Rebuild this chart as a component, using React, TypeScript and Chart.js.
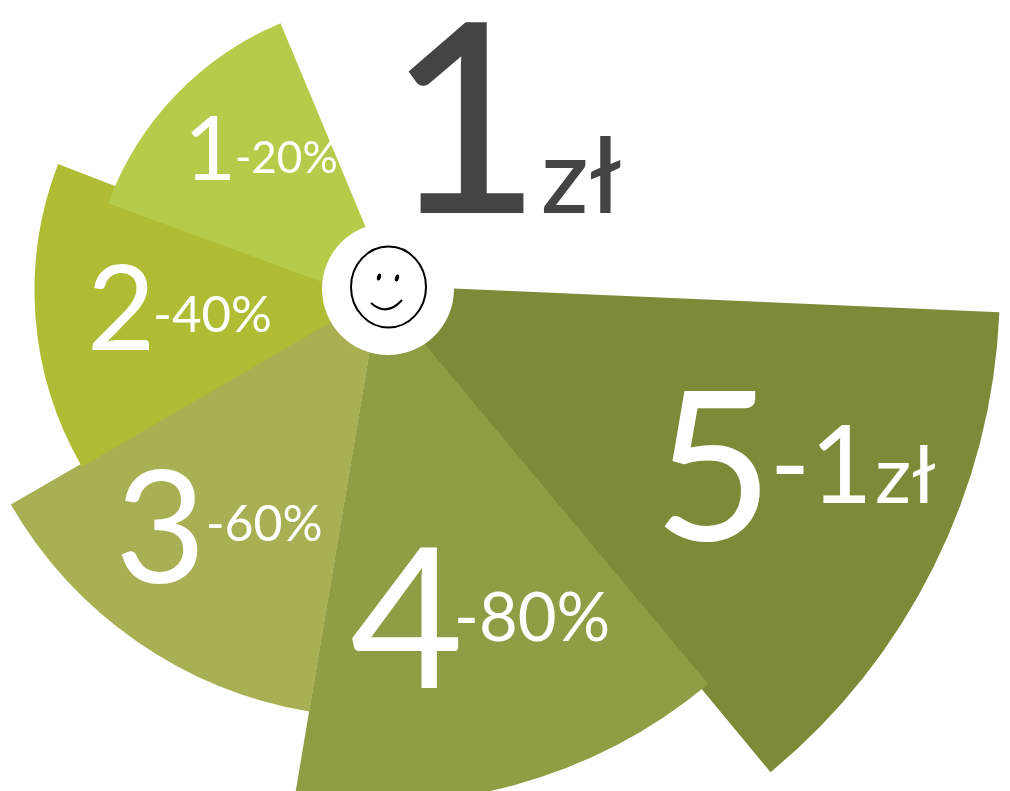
import React, { useEffect, useRef } from "react";
import { Chart, registerables } from "chart.js";

Chart.register(...registerables);

const categories = ["5", "4", "3", "2", "1"];
const radii = [647, 514, 425.5, 356, 340];
const sweeps = [47.5, 49.3, 50.5, 51, 45.5];
const nudges = [-57, -4, 2, -21, -114];
const colors = ["#7D8B39", "#8F9D44", "#A8B053", "#B0BC33", "#B5CC4B"];
const discounts = ["-1", "-80%", "-60%", "-40%", "-20%"];
const headline = "1";
const unit = "zł";

const FONT = "Lato, 'Open Sans', sans-serif";

function text(ctx: CanvasRenderingContext2D, s: string, x: number, y: number, size: number, color: string, weight = 400) {
  ctx.font = `${weight} ${size}px ${FONT}`;
  ctx.fillStyle = color;
  ctx.textAlign = "left";
  ctx.textBaseline = "alphabetic";
  ctx.fillText(s, x, y);
}

const decorations = {
  id: "decorations",
  afterDatasetsDraw(chart: Chart) {
    const ctx = chart.ctx;
    const cx = 388;
    const cy = 289;
    ctx.save();
    ctx.fillStyle = "#fff";
    ctx.beginPath();
    ctx.arc(cx, cy, 66, 0, Math.PI * 2);
    ctx.fill();

    ctx.strokeStyle = "#000";
    ctx.lineWidth = 2;
    ctx.beginPath();
    ctx.ellipse(cx + 0.5, cy - 2, 37.5, 40.5, 0, 0, Math.PI * 2);
    ctx.stroke();
    ctx.fillStyle = "#000";
    ctx.beginPath();
    ctx.ellipse(cx - 9, cy - 12, 2, 3.5, 0.25, 0, Math.PI * 2);
    ctx.fill();
    ctx.beginPath();
    ctx.ellipse(cx + 9, cy - 11, 2, 3.5, 0.25, 0, Math.PI * 2);
    ctx.fill();
    ctx.beginPath();
    ctx.moveTo(cx - 17, cy + 14);
    ctx.quadraticCurveTo(cx - 1, cy + 28, cx + 14, cy + 11);
    ctx.stroke();

    text(ctx, headline, 388, 213, 265, "#444444", 500);
    text(ctx, unit, 541, 213, 105, "#444444", 500);

    text(ctx, categories[4], 184, 180, 90, "#fff");
    text(ctx, discounts[4], 235, 173, 44, "#fff");
    text(ctx, categories[3], 87, 350, 118, "#fff");
    text(ctx, discounts[3], 153, 332, 51, "#fff");
    text(ctx, categories[2], 115, 583, 157, "#fff");
    text(ctx, discounts[2], 206, 541, 50, "#fff");
    text(ctx, categories[1], 350, 688, 196, "#fff");
    text(ctx, discounts[1], 454, 641, 67, "#fff");
    text(ctx, categories[0], 653, 540, 208, "#fff");
    text(ctx, discounts[0], 770, 503, 108, "#fff");
    text(ctx, unit, 875, 503, 80, "#fff");
    ctx.restore();
  },
};

export default function App() {
  const ref = useRef<HTMLCanvasElement>(null);
  useEffect(() => {
    document.body.style.margin = "0";
    const chart = new Chart(ref.current!, {
      type: "polarArea",
      data: {
        labels: categories,
        datasets: [
          {
            data: radii,
            backgroundColor: colors,
            borderWidth: 0,
            angle: sweeps,
            offset: nudges,
          } as any,
        ],
      },
      options: {
        responsive: false,
        animation: false,
        plugins: { legend: { display: false }, tooltip: { enabled: false } },
        scales: {
          r: {
            display: false,
            min: 0,
            max: 700,
            startAngle: 92.7,
            afterFit(scale: any) {
              scale.xCenter = 380;
              scale.yCenter = 291;
              scale.drawingArea = 700;
            },
          },
        },
      },
      plugins: [decorations],
    });
    return () => chart.destroy();
  }, []);
  return <canvas ref={ref} width={1010} height={791} style={{ display: "block" }} />;
}
